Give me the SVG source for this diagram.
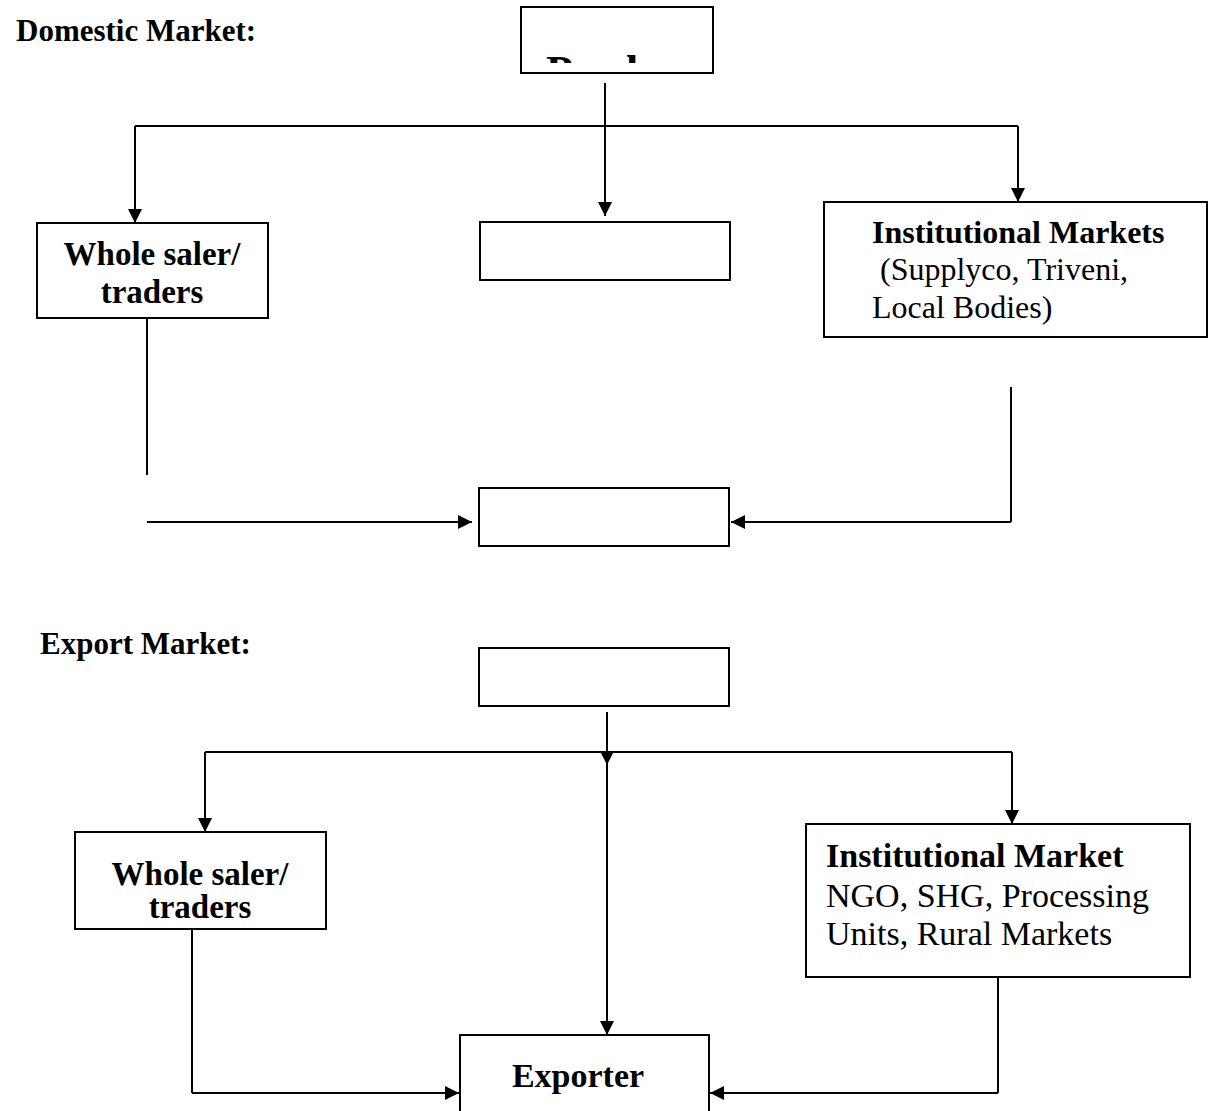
<svg xmlns="http://www.w3.org/2000/svg" width="1209" height="1111" viewBox="0 0 1209 1111">
  <style>
    .box { fill: #fff; stroke: #000; stroke-width: 2; }
    .line { fill: none; stroke: #000; stroke-width: 2; }
    .arrow { fill: none; stroke: #000; stroke-width: 2; marker-end: url(#head); }
    .b { font-family: "Liberation Serif", "Times New Roman", serif; font-weight: bold; fill: #000; }
    .r { font-family: "Liberation Serif", "Times New Roman", serif; fill: #000; }
  </style>
  <defs>
    <marker id="head" markerUnits="userSpaceOnUse" markerWidth="14" markerHeight="14" viewBox="0 0 14 14" refX="14" refY="7" orient="auto">
      <path d="M0,0 L14,7 L0,14 Z" fill="#000"/>
    </marker>
    <clipPath id="producerClip">
      <rect x="522" y="8" width="190" height="55"/>
    </clipPath>
  </defs>
  <rect width="1209" height="1111" fill="#fff"/>

  <!-- Section headings -->
  <text class="b" x="16" y="41" font-size="31">Domestic Market:</text>
  <text class="b" x="40" y="654" font-size="31">Export Market:</text>

  <!-- Domestic market connectors -->
  <g id="domestic-connectors">
    <path class="arrow" d="M605 83 V216"/>
    <path class="line" d="M135 126 H1018"/>
    <path class="arrow" d="M135 126 V223"/>
    <path class="arrow" d="M1018 126 V202"/>
    <path class="line" d="M147 319 V475"/>
    <path class="arrow" d="M147 522 H472"/>
    <path class="line" d="M1011 387 V522"/>
    <path class="arrow" d="M1011 522 H731"/>
  </g>

  <!-- Domestic market nodes -->
  <g id="producer-domestic">
    <rect class="box" x="521" y="7" width="192" height="66"/>
    <text class="b" x="546" y="86" font-size="44" clip-path="url(#producerClip)">Producer</text>
  </g>
  <g id="wholesaler-domestic">
    <rect class="box" x="37" y="223" width="231" height="95"/>
    <text class="b" x="152" y="265" font-size="33" text-anchor="middle">Whole saler/</text>
    <text class="b" x="152" y="303" font-size="33" text-anchor="middle">traders</text>
  </g>
  <g id="middle-domestic">
    <rect class="box" x="480" y="222" width="250" height="58"/>
  </g>
  <g id="institutional-domestic">
    <rect class="box" x="824" y="202" width="383" height="135"/>
    <text class="b" x="872" y="243" font-size="32">Institutional Markets</text>
    <text class="r" x="872" y="280" font-size="32" xml:space="preserve"> (Supplyco, Triveni,</text>
    <text class="r" x="872" y="318" font-size="32">Local Bodies)</text>
  </g>
  <g id="end-domestic">
    <rect class="box" x="479" y="488" width="250" height="58"/>
  </g>

  <!-- Export market connectors -->
  <g id="export-connectors">
    <path class="line" d="M205 752 H1012"/>
    <path class="arrow" d="M607 712 V765"/>
    <path class="arrow" d="M607 765 V1035"/>
    <path class="arrow" d="M205 752 V832"/>
    <path class="arrow" d="M1012 752 V824"/>
    <path class="line" d="M192 922 V1093"/>
    <path class="arrow" d="M192 1093 H459"/>
    <path class="line" d="M998 977 V1093"/>
    <path class="arrow" d="M998 1093 H710"/>
  </g>

  <!-- Export market nodes -->
  <g id="producer-export">
    <rect class="box" x="479" y="648" width="250" height="58"/>
  </g>
  <g id="wholesaler-export">
    <rect class="box" x="75" y="832" width="251" height="97"/>
    <text class="b" x="200" y="885" font-size="33" text-anchor="middle">Whole saler/</text>
    <text class="b" x="200" y="918" font-size="33" text-anchor="middle">traders</text>
  </g>
  <g id="institutional-export">
    <rect class="box" x="806" y="824" width="384" height="153"/>
    <text class="b" x="826" y="867" font-size="34">Institutional Market</text>
    <text class="r" x="826" y="907" font-size="34">NGO, SHG, Processing</text>
    <text class="r" x="826" y="945" font-size="34">Units, Rural Markets</text>
  </g>
  <g id="exporter">
    <rect class="box" x="460" y="1035" width="249" height="100"/>
    <text class="b" x="578" y="1087" font-size="34" text-anchor="middle">Exporter</text>
  </g>
</svg>
